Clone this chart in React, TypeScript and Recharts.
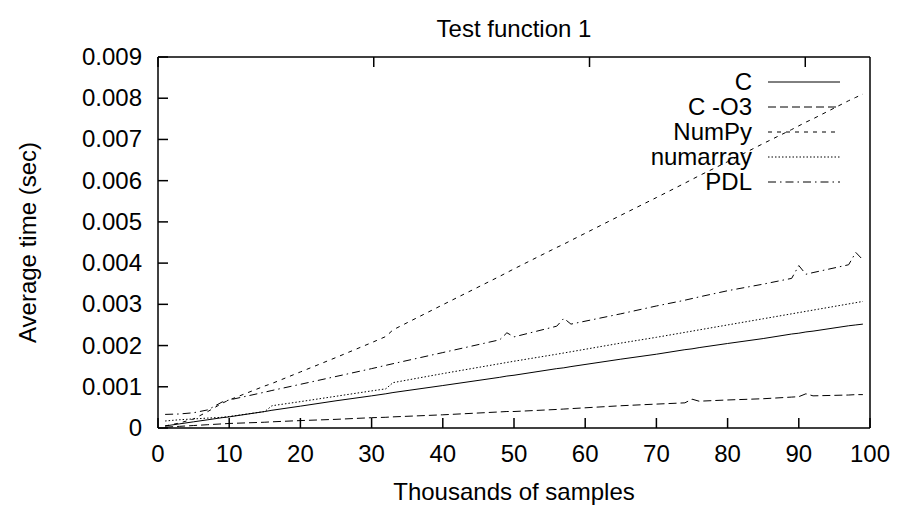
import React from 'react';
import { LineChart, Line, XAxis, YAxis, Legend } from 'recharts';

// thousands of samples
const samples = [1, 3, 5, 7, 9, 10, 15, 16, 20, 25, 30, 32, 33, 40, 48, 49, 50, 56, 57, 58, 65, 70, 74, 75, 76, 80, 85, 89, 90, 91, 92, 97, 98, 99];

// average time (sec)
const cTimes = [0.00005, 0.0001, 0.00015, 0.0002, 0.00025, 0.00027, 0.0004, 0.00043, 0.00053, 0.00066, 0.00078, 0.00083, 0.00086, 0.00103, 0.00123, 0.00126, 0.00128, 0.00144, 0.00146, 0.00149, 0.00167, 0.00179, 0.0019, 0.00192, 0.00195, 0.00205, 0.00217, 0.00228, 0.0023, 0.00233, 0.00235, 0.00248, 0.0025, 0.00252];
const cO3Times = [0.00002, 0.00004, 0.00006, 0.00008, 0.0001, 0.00011, 0.00014, 0.00015, 0.00018, 0.00021, 0.00025, 0.00026, 0.00027, 0.00032, 0.00039, 0.0004, 0.0004, 0.00045, 0.00046, 0.00047, 0.00054, 0.00058, 0.00061, 0.0007, 0.00065, 0.00068, 0.00071, 0.00075, 0.00076, 0.00083, 0.00078, 0.0008, 0.00081, 0.00081];
const numpyTimes = [0.00005, 0.00012, 0.00022, 0.0004, 0.0006, 0.00068, 0.00102, 0.00108, 0.00136, 0.00171, 0.00207, 0.00222, 0.00238, 0.00299, 0.00368, 0.00377, 0.00386, 0.00438, 0.00446, 0.00455, 0.00516, 0.00559, 0.00594, 0.00603, 0.00612, 0.00646, 0.0069, 0.00724, 0.00733, 0.00742, 0.0075, 0.00794, 0.00802, 0.0081];
const numarrayTimes = [0.00017, 0.0002, 0.00022, 0.00024, 0.00026, 0.00028, 0.0004, 0.00054, 0.00064, 0.00077, 0.0009, 0.00095, 0.0011, 0.00132, 0.00156, 0.00159, 0.00162, 0.00179, 0.00182, 0.00185, 0.00206, 0.0022, 0.00232, 0.00235, 0.00238, 0.0025, 0.00265, 0.00277, 0.0028, 0.00283, 0.00286, 0.00301, 0.00304, 0.00307];
const pdlTimes = [0.00033, 0.00034, 0.00037, 0.00044, 0.00063, 0.00068, 0.00087, 0.00091, 0.00106, 0.00125, 0.00144, 0.00152, 0.00156, 0.00183, 0.00214, 0.00231, 0.00221, 0.00247, 0.00266, 0.00252, 0.00277, 0.00296, 0.0031, 0.00314, 0.00318, 0.00333, 0.00349, 0.00363, 0.00394, 0.00373, 0.00377, 0.00396, 0.00426, 0.00408];

const xTicks = [0, 10, 20, 30, 40, 50, 60, 70, 80, 90, 100];
const yTicks = [0, 0.001, 0.002, 0.003, 0.004, 0.005, 0.006, 0.007, 0.008, 0.009];

const data = samples.map((x, i) => ({
  x,
  c: cTimes[i],
  cO3: cO3Times[i],
  numpy: numpyTimes[i],
  numarray: numarrayTimes[i],
  pdl: pdlTimes[i],
}));

// gnuplot-like line types
const series = [
  { key: 'c', name: 'C', dash: undefined },
  { key: 'cO3', name: 'C -O3', dash: '8 4' },
  { key: 'numpy', name: 'NumPy', dash: '4 5' },
  { key: 'numarray', name: 'numarray', dash: '1.5 2' },
  { key: 'pdl', name: 'PDL', dash: '8 4 1.5 4' },
];

const FONT = '"Liberation Sans", Arial, Helvetica, sans-serif';
const FS = 24;
const TICK = 10;

const BottomTick = ({ x, y, payload }: any) => (
  <g>
    <line x1={x} y1={y} x2={x} y2={y - TICK} stroke="#000" strokeWidth={1.5} />
    <text x={x} y={y + 34} textAnchor="middle" fontSize={FS} fontFamily={FONT} fill="#000">
      {payload.value}
    </text>
  </g>
);

const LeftTick = ({ x, y, payload }: any) => (
  <g>
    <line x1={x} y1={y} x2={x + TICK} y2={y} stroke="#000" strokeWidth={1.5} />
    <text x={x - 16} y={y + 8} textAnchor="end" fontSize={FS} fontFamily={FONT} fill="#000">
      {payload.value === 0 ? '0' : payload.value.toFixed(3)}
    </text>
  </g>
);

const TopTick = ({ x, y }: any) => (
  <line x1={x} y1={y} x2={x} y2={y + TICK} stroke="#000" strokeWidth={1.5} />
);

const RightTick = ({ x, y }: any) => (
  <line x1={x} y1={y} x2={x - TICK} y2={y} stroke="#000" strokeWidth={1.5} />
);

const TitleLabel = ({ viewBox }: any) => (
  <text x={viewBox.x + viewBox.width / 2} y={viewBox.y - 10} textAnchor="middle" fontSize={FS} fontFamily={FONT} fill="#000">
    Test function 1
  </text>
);

const XTitle = ({ viewBox }: any) => (
  <text x={viewBox.x + viewBox.width / 2} y={viewBox.y + 72} textAnchor="middle" fontSize={FS} fontFamily={FONT} fill="#000">
    Thousands of samples
  </text>
);

const YTitle = ({ viewBox }: any) => (
  <text
    transform={`translate(${viewBox.x - 32}, ${viewBox.y + viewBox.height / 2}) rotate(-90)`}
    textAnchor="middle"
    fontSize={FS}
    fontFamily={FONT}
    fill="#000"
  >
    Average time (sec)
  </text>
);

const KeyBox = () => (
  <svg width={260} height={130}>
    {series.map((s, i) => (
      <g key={s.key}>
        <text x={150} y={17 + i * 25 + 8} textAnchor="end" fontSize={FS} fontFamily={FONT} fill="#000">
          {s.name}
        </text>
        <line x1={166} x2={238} y1={17 + i * 25} y2={17 + i * 25} stroke="#000" strokeWidth={1} strokeDasharray={s.dash} />
      </g>
    ))}
  </svg>
);

export default function App() {
  return (
    <div style={{ position: 'absolute', left: 0, top: 0, width: 900, height: 509, background: '#fff' }}>
      <LineChart width={900} height={509} data={data} margin={{ top: 47, right: 20, left: 68, bottom: 51 }} style={{ fontFamily: FONT }}>
        <XAxis
          dataKey="x"
          type="number"
          domain={[0, 100]}
          ticks={xTicks}
          interval={0}
          height={30}
          tickSize={0}
          tickMargin={0}
          tickLine={false}
          axisLine={{ stroke: '#000', strokeWidth: 1.5 }}
          tick={<BottomTick />}
          label={<XTitle />}
        />
        <XAxis
          xAxisId="top"
          orientation="top"
          type="number"
          domain={[0, 100]}
          ticks={xTicks}
          interval={0}
          height={10}
          tickSize={0}
          tickMargin={0}
          tickLine={false}
          axisLine={{ stroke: '#000', strokeWidth: 1.5 }}
          tick={<TopTick />}
          label={<TitleLabel />}
        />
        <YAxis
          type="number"
          domain={[0, 0.009]}
          ticks={yTicks}
          interval={0}
          width={90}
          tickSize={0}
          tickMargin={0}
          tickLine={false}
          axisLine={{ stroke: '#000', strokeWidth: 1.5 }}
          tick={<LeftTick />}
          label={<YTitle />}
        />
        <YAxis
          yAxisId="right"
          orientation="right"
          type="number"
          domain={[0, 0.009]}
          ticks={yTicks}
          interval={0}
          width={10}
          tickSize={0}
          tickMargin={0}
          tickLine={false}
          axisLine={{ stroke: '#000', strokeWidth: 1.5 }}
          tick={<RightTick />}
        />
        <Legend
          layout="vertical"
          align="center"
          verticalAlign="middle"
          content={<KeyBox />}
          wrapperStyle={{ position: 'absolute', left: 602, top: 65, width: 260, height: 130 }}
        />
        {series.map((s) => (
          <Line
            key={s.key}
            dataKey={s.key}
            name={s.name}
            type="linear"
            stroke="#000"
            strokeWidth={1}
            strokeDasharray={s.dash}
            dot={false}
            activeDot={false}
            isAnimationActive={false}
          />
        ))}
      </LineChart>
    </div>
  );
}
